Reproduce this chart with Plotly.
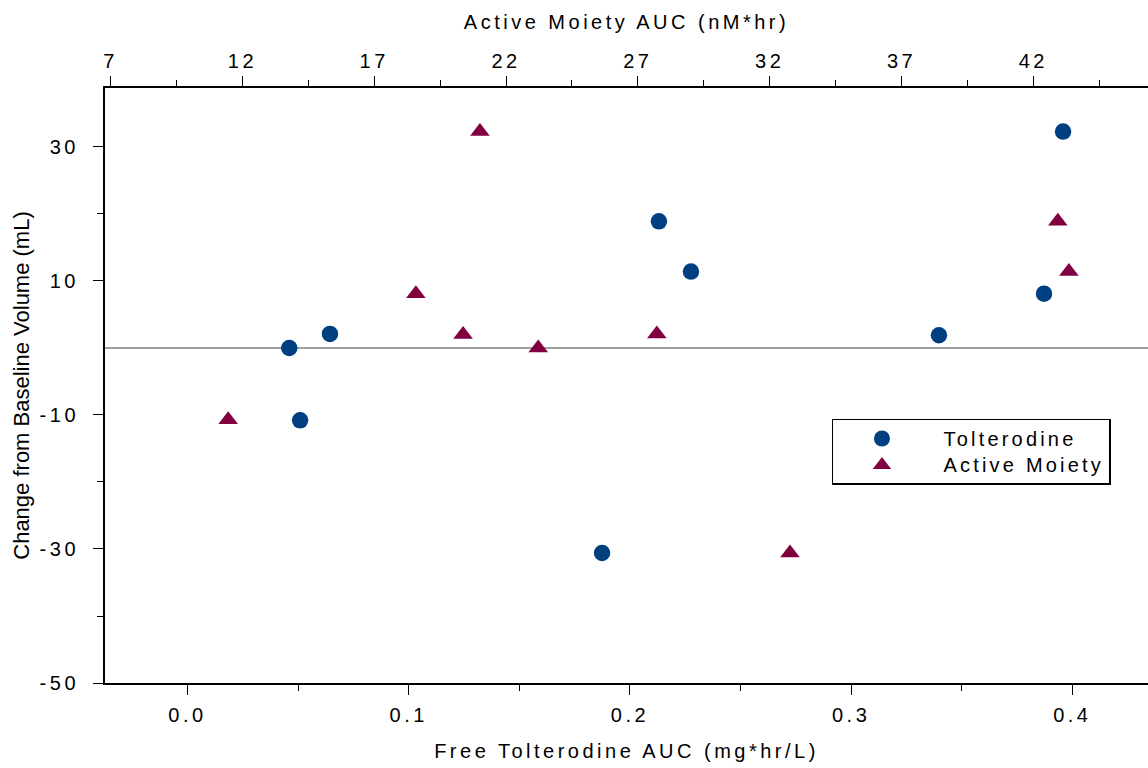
import plotly.graph_objects as go

# Data
tol_auc = [0.046, 0.0509, 0.0644, 0.1874, 0.2131, 0.2276, 0.3397, 0.3872, 0.3958]
tol_change = [0.0, -10.8, 2.1, -30.6, 18.9, 11.4, 1.9, 8.1, 32.3]

am_auc = [11.46, 18.58, 20.37, 21.01, 23.22, 27.72, 32.77, 42.93, 43.35]
am_change = [-10.7, 8.1, 2.0, 32.3, 0.0, 2.1, -30.6, 18.9, 11.4]

bottom_ticks = [0.0, 0.1, 0.2, 0.3, 0.4]
bottom_labels = ["0.0", "0.1", "0.2", "0.3", "0.4"]
top_ticks = [7, 12, 17, 22, 27, 32, 37, 42]
top_labels = ["7", "12", "17", "22", "27", "32", "37", "42"]
y_ticks = [30, 10, -10, -30, -50]
y_labels = ["30", "10", "-10", "-30", "-50"]

FONT = "Liberation Sans, Arial, sans-serif"
FS = 20
LS = 3.5


def sp(s, ls=LS, size=None):
    style = f"letter-spacing:{ls}px"
    if size:
        style += f";font-size:{size}px"
    return f'<span style="{style}">{s}</span>'


fig = go.Figure()
fig.add_trace(go.Scatter(
    x=tol_auc, y=tol_change, mode="markers", name=sp("Tolterodine", 3.2, 20),
    marker=dict(symbol="circle", size=16.5, color="#004080"),
    xaxis="x", yaxis="y"))
fig.add_trace(go.Scatter(
    x=am_auc, y=am_change, mode="markers", name=sp("Active Moiety", 3.2, 20),
    marker=dict(symbol="triangle-up", size=17, color="#800040"),
    xaxis="x2", yaxis="y"))

axis_common = dict(showline=True, linecolor="black", linewidth=2,
                   ticks="outside", ticklen=10, tickwidth=1, tickcolor="black",
                   showgrid=False, zeroline=False,
                   tickfont=dict(family=FONT, size=FS, color="black"))

fig.update_layout(
    width=1148, height=768,
    margin=dict(l=105, r=0, t=88, b=85),
    paper_bgcolor="white", plot_bgcolor="white",
    font=dict(family=FONT, size=FS, color="black"),
    showlegend=True,
    xaxis=dict(range=[-0.0373, 0.4342], tickvals=bottom_ticks,
               ticktext=[sp(t) for t in bottom_labels],
               ticklabelstandoff=3,
               minor=dict(tickvals=[0.05, 0.15, 0.25, 0.35], ticklen=6,
                          tickcolor="black", ticks="outside"),
               title=dict(text=sp("Free Tolterodine AUC (mg*hr/L)"),
                          font=dict(family=FONT, size=FS), standoff=19),
               **axis_common),
    xaxis2=dict(range=[6.788, 46.35], overlaying="x", side="top",
                anchor="y", tickvals=top_ticks,
                ticktext=[sp(t) for t in top_labels],
                minor=dict(tickvals=[9.5, 14.5, 19.5, 24.5, 29.5, 34.5, 39.5, 44.5],
                           ticklen=6, tickcolor="black", ticks="outside"),
                title=dict(text=sp("Active Moiety AUC (nM*hr)"),
                           font=dict(family=FONT, size=FS), standoff=15),
                **axis_common),
    yaxis=dict(range=[-50, 38.8], tickvals=y_ticks,
               ticktext=[sp(t) for t in y_labels],
               ticklabelstandoff=10,
               minor=dict(tickvals=[20, -20, -40], ticklen=6,
                          tickcolor="black", ticks="outside"),
               title=dict(text="Change from Baseline Volume (mL)",
                          font=dict(family=FONT, size=22), standoff=4),
               **axis_common),
    legend=dict(x=0.697, y=0.444, xanchor="left", yanchor="top",
                bordercolor="black", borderwidth=1.5, bgcolor="white",
                font=dict(family=FONT, size=18, color="black"),
                itemwidth=113, indentation=-13, tracegroupgap=0),
)

fig.add_hline(y=0, line=dict(color="#808080", width=1.5), layer="below")

fig.write_html("out.html")
